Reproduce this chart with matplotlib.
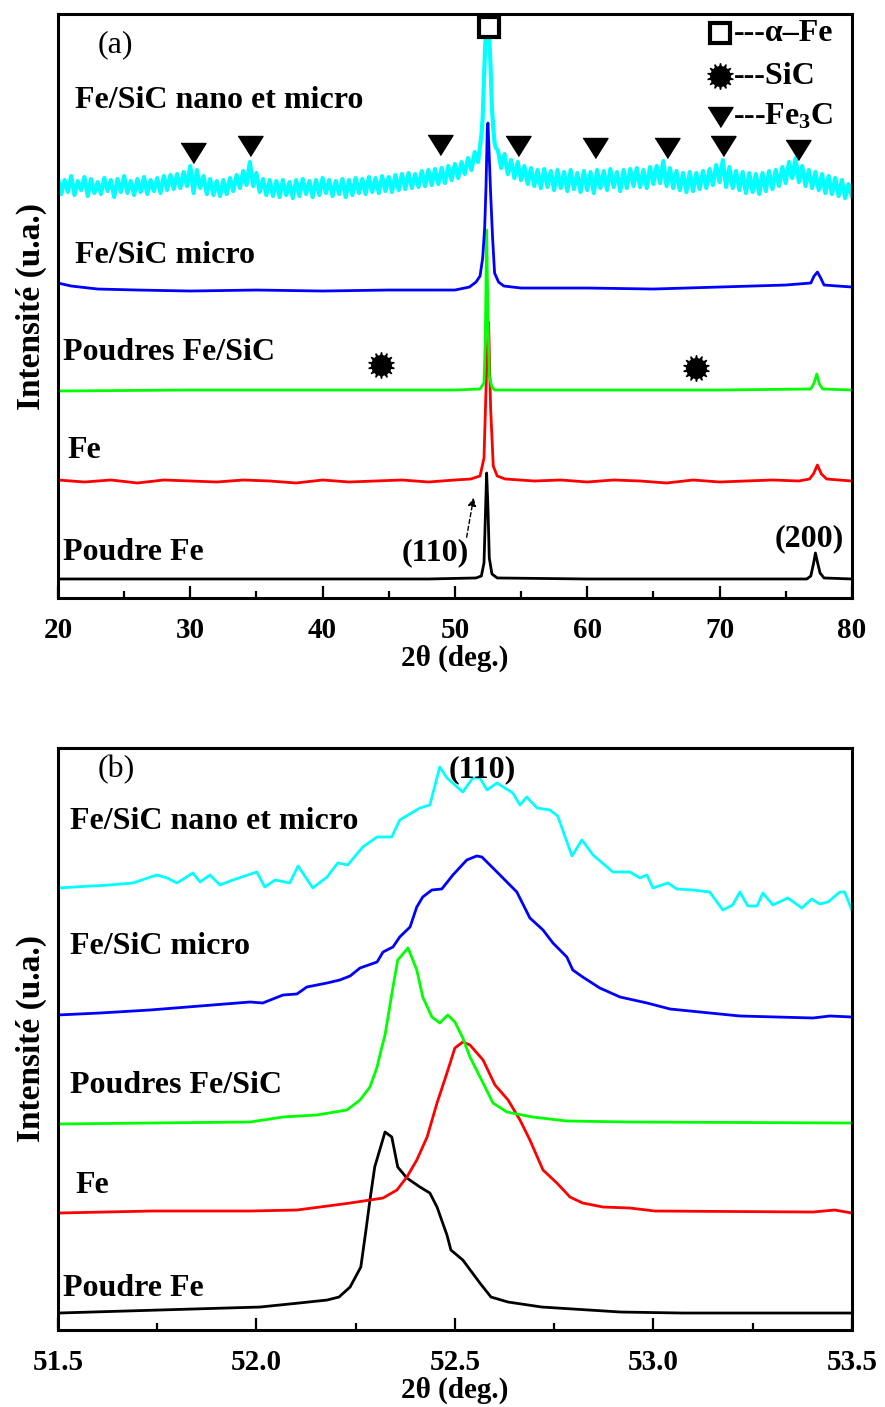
import numpy as np
import matplotlib
matplotlib.use('Agg')
import matplotlib.pyplot as plt
from matplotlib.ticker import MultipleLocator, FormatStrFormatter

plt.rcParams['font.family'] = ['Liberation Serif', 'DejaVu Serif']
plt.rcParams['font.weight'] = 'bold'
plt.rcParams['axes.labelweight'] = 'bold'
plt.rcParams['mathtext.fontset'] = 'custom'
plt.rcParams['mathtext.rm'] = 'Liberation Serif:bold'
plt.rcParams['mathtext.it'] = 'Liberation Serif:bold'
plt.rcParams['mathtext.bf'] = 'Liberation Serif:bold'

# ---------------- Panel (a) data: 2theta 20-80 deg, intensity (a.u., stacked) ----------------
labels = ["Fe/SiC nano et micro", "Fe/SiC micro", "Poudres Fe/SiC", "Fe", "Poudre Fe"]
colors = ["#00FFFF", "#0000FF", "#00FF00", "#FF0000", "#000000"]

cyan_a_left_x = np.arange(20, 51.76, 0.25)
cyan_a_left_y = [420, 404, 418, 406, 422, 403, 417, 408,
                 421, 402, 419, 405, 416, 404, 420, 407,
                 418, 401, 419, 406, 422, 405, 417, 403,
                 419, 406, 421, 404, 418, 407, 420, 405,
                 422, 408, 423, 409, 424, 410, 426, 412,
                 432, 405, 428, 410, 422, 404, 419, 403,
                 417, 402, 418, 404, 420, 407, 423, 410,
                 427, 413, 436, 412, 425, 406, 419, 403,
                 418, 402, 417, 401, 418, 403, 416, 400,
                 418, 402, 419, 404, 417, 401, 418, 403,
                 420, 405, 418, 402, 417, 404, 419, 401,
                 418, 403, 420, 405, 419, 404, 421, 406,
                 420, 405, 422, 407, 421, 406, 423, 408,
                 424, 409, 425, 410, 424, 411, 427, 412,
                 428, 413, 429, 414, 430, 415, 432, 418,
                 434, 420, 436, 424, 440, 428, 446, 436]
cyan_a_peak_x = [51.9, 52.0, 52.1, 52.2, 52.3, 52.4, 52.5, 52.6, 52.7, 52.8, 52.9, 53.0, 53.1]
cyan_a_peak_y = [452, 462, 480, 520, 555, 566, 568, 560, 530, 490, 470, 455, 450]
cyan_a_right_x = np.arange(53.25, 80.01, 0.25)
cyan_a_right_y = [448, 430, 444, 424, 438, 420, 436, 418,
                  432, 414, 430, 412, 428, 410, 429, 411,
                  427, 408, 428, 410, 426, 407, 428, 409,
                  425, 406, 427, 408, 426, 405, 428, 410,
                  427, 408, 429, 411, 426, 407, 428, 410,
                  429, 412, 430, 411, 428, 410, 431, 414,
                  432, 415, 437, 412, 430, 410, 427, 408,
                  425, 406, 426, 407, 425, 409, 427, 410,
                  429, 413, 433, 416, 438, 411, 431, 410,
                  427, 408, 426, 405, 425, 406, 424, 404,
                  425, 407, 427, 409, 428, 412, 431, 415,
                  436, 420, 440, 416, 432, 412, 428, 410,
                  426, 408, 424, 405, 422, 404, 420, 402,
                  418, 400, 414, 402]

blue_a_x = [20, 21, 23, 26, 30, 35, 40, 45, 50, 51.1, 51.6, 51.9, 52.1, 52.25, 52.35, 52.45, 52.5,
            52.6, 52.7, 52.85, 53.0, 53.3, 53.7, 55, 60, 65, 70, 75, 76.9, 77.15, 77.4, 77.65, 77.9, 80]
blue_a_y = [315, 312, 309, 308, 307, 308, 307, 308, 308, 311, 316, 322, 340, 370, 410, 470, 475,
            440, 405, 360, 325, 316, 312, 310, 310, 309, 311, 313, 315, 322, 326, 320, 313, 311]

green_a_x = [20, 30, 40, 50, 51.9, 52.2, 52.3, 52.4, 52.5, 52.6, 52.8, 53.0, 60, 70,
             76.9, 77.15, 77.35, 77.55, 77.8, 80]
green_a_y = [207, 208, 208, 208, 209, 215, 260, 368, 280, 222, 211, 208, 208, 208,
             209, 215, 224, 214, 209, 208]

red_a_x = [20, 22, 24, 26, 28, 30, 32, 34, 36, 38, 40, 42, 44, 46, 48, 50, 51.2, 51.9, 52.2,
           52.4, 52.55, 52.7, 52.9, 53.2, 53.8, 56, 58, 60, 62, 64, 66, 68, 70, 72, 74, 76,
           76.8, 77.1, 77.4, 77.7, 78.1, 79, 80]
red_a_y = [118, 116, 118, 115, 118, 117, 116, 118, 117, 115, 118, 116, 117, 118, 116, 118, 119, 122, 140,
           230, 276, 190, 132, 122, 119, 117, 118, 116, 118, 117, 115, 118, 116, 117, 118, 117,
           119, 124, 133, 124, 119, 118, 117]

black_a_x = [20, 30, 40, 48, 51.6, 52.0, 52.2, 52.3, 52.4, 52.5, 52.6, 52.8, 53.2, 60, 70,
             76.6, 76.9, 77.1, 77.25, 77.4, 77.6, 77.9, 80]
black_a_y = [19, 19, 19, 19, 20, 22, 35, 80, 125, 90, 40, 24, 20, 19, 19,
             19, 22, 34, 45, 36, 25, 20, 19]

# phase markers (a)
fe3c_x = [30.2, 34.5, 48.9, 54.8, 60.6, 66.0, 70.25, 75.9]
fe3c_y = [445, 452, 453, 452, 450, 450, 452, 448]
sic_x = [44.4, 68.2]
sic_y = [233, 230]
alpha_x = [52.55]
alpha_y = [571]
curve_label_a_y = [498, 343, 246, 147, 45]
curve_label_a_x = [21.3, 21.3, 20.4, 20.75, 20.4]

# ---------------- Panel (b) data: zoom on (110), 51.5-53.5 deg ----------------
cyan_b_x = [51.5, 51.631, 51.689, 51.749, 51.775, 51.800, 51.840, 51.858, 51.883, 51.908, 51.941,
            52.001, 52.021, 52.047, 52.084, 52.105, 52.142, 52.178, 52.205, 52.230, 52.268, 52.304,
            52.341, 52.361, 52.412, 52.437, 52.462, 52.480, 52.520, 52.545, 52.563, 52.581, 52.606,
            52.646, 52.664, 52.681, 52.707, 52.739, 52.759, 52.795, 52.820, 52.848, 52.898, 52.941,
            52.966, 52.984, 52.999, 53.037, 53.059, 53.100, 53.142, 53.175, 53.200, 53.218, 53.238,
            53.261, 53.276, 53.301, 53.339, 53.374, 53.399, 53.419, 53.440, 53.470, 53.482, 53.500]
cyan_b_y = [442, 445, 447, 455, 452, 447, 457, 448, 455, 445, 450,
            458, 443, 450, 447, 464, 442, 453, 467, 465, 483, 493,
            493, 510, 522, 525, 563, 552, 538, 552, 552, 540, 547,
            537, 525, 533, 522, 520, 514, 474, 490, 475, 458, 458,
            452, 455, 442, 447, 441, 440, 438, 420, 425, 438, 424,
            424, 437, 425, 432, 422, 431, 426, 428, 438, 438, 420]

blue_b_x = [51.5, 51.606, 51.732, 51.858, 51.984, 52.016, 52.067, 52.102, 52.127, 52.178, 52.210,
            52.236, 52.261, 52.304, 52.319, 52.344, 52.361, 52.387, 52.404, 52.419, 52.442, 52.467,
            52.495, 52.530, 52.555, 52.568, 52.606, 52.656, 52.689, 52.722, 52.747, 52.782, 52.797,
            52.822, 52.865, 52.916, 52.984, 53.042, 53.117, 53.218, 53.402, 53.445, 53.5]
blue_b_y = [315, 317, 320, 324, 328, 327, 335, 336, 343, 347, 350,
            354, 362, 368, 378, 383, 393, 403, 423, 433, 440, 441,
            455, 470, 474, 473, 458, 438, 412, 400, 387, 373, 360,
            353, 342, 333, 327, 321, 318, 314, 312, 314, 313]

green_b_x = [51.5, 51.732, 51.984, 52.067, 52.152, 52.228, 52.261, 52.286, 52.304, 52.316, 52.324,
             52.344, 52.356, 52.382, 52.404, 52.419, 52.442, 52.462, 52.482, 52.500, 52.520, 52.538,
             52.571, 52.596, 52.631, 52.696, 52.782, 52.941, 53.5]
green_b_y = [206, 207, 208, 213, 215, 220, 230, 243, 263, 283, 295,
             343, 370, 382, 360, 333, 313, 307, 315, 308, 292, 273,
             247, 227, 218, 213, 209, 208, 207]

red_b_x = [51.5, 51.737, 51.984, 52.102, 52.160, 52.236, 52.319, 52.354, 52.379, 52.404, 52.430,
           52.455, 52.480, 52.500, 52.520, 52.538, 52.571, 52.601, 52.634, 52.664, 52.689, 52.722,
           52.757, 52.790, 52.822, 52.873, 52.941, 53.004, 53.402, 53.457, 53.5]
red_b_y = [117, 119, 119, 120, 123, 127, 132, 140, 153, 170, 193,
           227, 257, 282, 288, 285, 270, 245, 230, 210, 190, 160,
           147, 133, 127, 123, 122, 119, 118, 120, 117]

black_b_x = [51.5, 51.923, 52.009, 52.107, 52.178, 52.208, 52.236, 52.263, 52.276, 52.286, 52.298,
             52.324, 52.341, 52.356, 52.379, 52.412, 52.437, 52.455, 52.480, 52.490, 52.520, 52.563,
             52.591, 52.634, 52.719, 52.918, 53.074, 53.5]
black_b_y = [17, 22, 23, 27, 30, 33, 43, 63, 100, 130, 163,
             198, 193, 163, 152, 143, 137, 123, 95, 80, 70, 47,
             33, 28, 23, 18, 17, 17]
curve_label_b_y = [508, 383, 245, 145, 42]
curve_label_b_x = [51.53, 51.53, 51.53, 51.545, 51.513]

# ---------------- figure ----------------
fig = plt.figure(figsize=(8.85, 14.07), dpi=100)
axa = fig.add_axes([0.0655, 0.575, 0.897, 0.415])
axb = fig.add_axes([0.0655, 0.0547, 0.897, 0.4137])

FS = 23
TFS = 21

cyan_a_x = np.concatenate([cyan_a_left_x, cyan_a_peak_x, cyan_a_right_x])
cyan_a_y = np.concatenate([cyan_a_left_y, cyan_a_peak_y, cyan_a_right_y])
series_a = [(cyan_a_x, cyan_a_y), (blue_a_x, blue_a_y), (green_a_x, green_a_y),
            (red_a_x, red_a_y), (black_a_x, black_a_y)]
for (x, y), c in zip(series_a[::-1], colors[::-1]):
    axa.plot(x, y, color=c, lw=3.0 if c == "#00FFFF" else 2.0)

for lab, lx, ly in zip(labels, curve_label_a_x, curve_label_a_y):
    axa.text(lx, ly, lab, fontsize=FS, ha='left', va='center')

tri = [(-1.0, 0.8), (1.0, 0.8), (0.0, -0.8)]
axa.plot(fe3c_x, fe3c_y, ls='none', marker=tri, ms=18, color='k')
axa.plot(sic_x, sic_y, ls='none', marker=(14, 1, 0), ms=19, color='k')
axa.plot(sic_x, sic_y, ls='none', marker='o', ms=14, color='k')
axa.plot(alpha_x, alpha_y, ls='none', marker='s', ms=15, mfc='white', mec='k', mew=3)

# legend (manual)
axa.plot([70.0], [565], ls='none', marker='s', ms=15, mfc='white', mec='k', mew=3)
axa.plot([70.0], [522], ls='none', marker=(14, 1, 0), ms=19, color='k')
axa.plot([70.0], [522], ls='none', marker='o', ms=14, color='k')
axa.plot([70.0], [481], ls='none', marker=tri, ms=18, color='k')
axa.text(71.1, 565, "---α–Fe", fontsize=FS, ha='left', va='center')
axa.text(71.1, 522, "---SiC", fontsize=FS, ha='left', va='center')
axa.text(71.0, 481, "---Fe$_3$C", fontsize=FS, ha='left', va='center')

axa.text(23.0, 553, "(a)", fontsize=FS, fontweight='normal', ha='left', va='center')
axa.text(48.5, 45, "(110)", fontsize=FS, ha='center', va='center')
axa.text(76.8, 59, "(200)", fontsize=FS, ha='center', va='center')
axa.annotate('', xy=(51.45, 103), xytext=(50.85, 58),
             arrowprops=dict(arrowstyle='-|>', ls=(0, (3, 2)), lw=1.0, color='k', mutation_scale=12))

axa.set_xlim(20, 80)
axa.set_ylim(0, 584)
axa.xaxis.set_major_locator(MultipleLocator(10))
axa.xaxis.set_minor_locator(MultipleLocator(5))

series_b = [(cyan_b_x, cyan_b_y), (blue_b_x, blue_b_y), (green_b_x, green_b_y),
            (red_b_x, red_b_y), (black_b_x, black_b_y)]
for (x, y), c in zip(series_b[::-1], colors[::-1]):
    axb.plot(x, y, color=c, lw=2.0)
for lab, lx, ly in zip(labels, curve_label_b_x, curve_label_b_y):
    axb.text(lx, ly, lab, fontsize=FS, ha='left', va='center')
axb.text(51.6, 560, "(b)", fontsize=FS, fontweight='normal', ha='left', va='center')
axb.text(52.57, 560, "(110)", fontsize=FS, ha='center', va='center')
axb.set_xlim(51.5, 53.5)
axb.set_ylim(0, 582)
axb.xaxis.set_major_locator(MultipleLocator(0.5))
axb.xaxis.set_minor_locator(MultipleLocator(0.25))
axb.xaxis.set_major_formatter(FormatStrFormatter('%.1f'))

for ax in (axa, axb):
    ax.set_yticks([])
    ax.tick_params(axis='x', which='both', direction='in', top=False, bottom=True,
                   labelsize=TFS, pad=14)
    ax.tick_params(axis='x', which='major', length=9, width=1.6)
    ax.tick_params(axis='x', which='minor', length=5, width=1.6)
    for s in ax.spines.values():
        s.set_linewidth(2.2)
    ax.set_xlabel("2θ (deg.)", fontsize=TFS, fontweight='bold', labelpad=0)
    ax.set_ylabel("Intensité (u.a.)", fontsize=24, fontweight='bold', labelpad=8)

fig.savefig("out.png", dpi=100)
